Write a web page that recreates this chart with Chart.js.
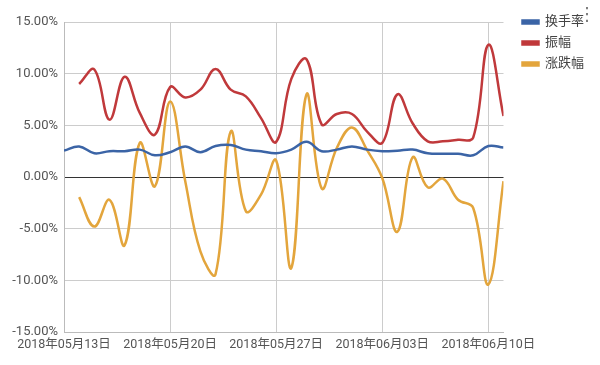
<!DOCTYPE html>
<html>
<head>
<meta charset="utf-8">
<script src="https://cdn.jsdelivr.net/npm/chart.js@4"></script>
<style>
  body { margin: 0; background: #fff; }
  #wrap { position: relative; width: 600px; height: 365px; }
  #menu { position: absolute; left: 578px; top: 3px; font: 18px 'DejaVu Sans', sans-serif; color: #777; }
</style>
</head>
<body>
<div id="wrap">
  <canvas id="stockChart" width="600" height="365"></canvas>
  <div id="menu">⋮</div>
</div>
<script>
// 每日数据 2018-05-13 ~ 2018-06-11
const dates = [
  '2018-05-13', '2018-05-14', '2018-05-15', '2018-05-16', '2018-05-17', '2018-05-18', '2018-05-19',
  '2018-05-20', '2018-05-21', '2018-05-22', '2018-05-23', '2018-05-24', '2018-05-25', '2018-05-26',
  '2018-05-27', '2018-05-28', '2018-05-29', '2018-05-30', '2018-05-31', '2018-06-01', '2018-06-02',
  '2018-06-03', '2018-06-04', '2018-06-05', '2018-06-06', '2018-06-07', '2018-06-08', '2018-06-09',
  '2018-06-10', '2018-06-11'
];

const turnover = [2.55, 2.95, 2.3, 2.5, 2.5, 2.65, 2.1, 2.4, 2.95, 2.4, 3.0, 3.1, 2.65, 2.5, 2.3,
  2.65, 3.4, 2.5, 2.65, 2.95, 2.65, 2.5, 2.55, 2.65, 2.3, 2.25, 2.25, 2.1, 3.0, 2.85];

const amplitude = [null, 9.0, 10.4, 5.55, 9.7, 6.2, 4.1, 8.7, 7.7, 8.45, 10.45, 8.45, 7.8, 5.7, 3.4,
  9.5, 11.4, 5.1, 6.1, 6.1, 4.4, 3.3, 8.0, 5.2, 3.45, 3.45, 3.6, 3.8, 12.8, 5.9];

const change = [null, -1.95, -4.8, -2.2, -6.6, 3.3, -0.9, 7.3, -0.4, -7.2, -9.4, 4.4, -3.3, -1.7, 1.6,
  -8.8, 8.0, -1.1, 2.8, 4.8, 2.6, -0.1, -5.3, 1.9, -1.0, -0.15, -2.2, -3.0, -10.4, -0.4];

const seriesNames = ['换手率', '振幅', '涨跌幅'];
const seriesColors = ['#3b64a6', '#c0393b', '#e3a53c'];

const yTicks = [-15, -10, -5, 0, 5, 10, 15];

const startDay = new Date(dates[0] + 'T00:00:00Z');
function dayOffset(d) {
  return (new Date(d + 'T00:00:00Z') - startDay) / 86400000;
}
function dateLabel(offset) {
  const d = new Date(startDay.getTime() + offset * 86400000);
  const mm = String(d.getUTCMonth() + 1).padStart(2, '0');
  const dd = String(d.getUTCDate()).padStart(2, '0');
  return d.getUTCFullYear() + '年' + mm + '月' + dd + '日';
}
function toPoints(values) {
  return values.map((v, i) => ({ x: dayOffset(dates[i]), y: v }));
}

Chart.defaults.font.family = "Roboto, 'Noto Sans CJK SC', sans-serif";
Chart.defaults.font.size = 13;
Chart.defaults.color = '#555';

// 图例位置微调
const legendShift = {
  id: 'legendShift',
  afterLayout(chart) {
    const lg = chart.legend;
    if (!lg) return;
    const w = lg.width, h = lg.height;
    lg.left = chart.chartArea.right + 11;
    lg.right = lg.left + w;
    lg.top = 7.5;
    lg.bottom = lg.top + h;
  }
};

const ctx = document.getElementById('stockChart').getContext('2d');

new Chart(ctx, {
  type: 'line',
  data: {
    datasets: [turnover, amplitude, change].map((vals, i) => ({
      label: seriesNames[i],
      data: toPoints(vals),
      borderColor: seriesColors[i],
      backgroundColor: seriesColors[i],
      borderWidth: 2.5,
      pointRadius: 0,
      tension: 0.4,
      fill: false
    }))
  },
  options: {
    responsive: false,
    animation: false,
    layout: { padding: { top: 22, right: 17, left: 0, bottom: 0 } },
    plugins: {
      legend: {
        position: 'right',
        align: 'start',
        labels: { boxWidth: 16, boxHeight: 3, padding: 8, color: '#444', font: { size: 13 } }
      },
      tooltip: { enabled: false }
    },
    scales: {
      x: {
        type: 'linear',
        min: 0,
        max: dayOffset(dates[dates.length - 1]),
        afterFit: s => { s.height = 33; },
        grid: { color: '#cccccc', drawTicks: false },
        border: { color: '#bbbbbb' },
        ticks: {
          stepSize: 7,
          includeBounds: false,
          autoSkip: false,
          maxRotation: 0,
          padding: 5,
          color: '#555',
          font: { size: 12.5 },
          callback: v => dateLabel(v)
        }
      },
      y: {
        min: yTicks[0],
        max: yTicks[yTicks.length - 1],
        afterFit: s => { s.width = 64; },
        afterBuildTicks: s => { s.ticks = yTicks.map(v => ({ value: v })); },
        grid: {
          drawTicks: false,
          color: c => (c.tick && c.tick.value === 0) ? '#333333' : '#cccccc'
        },
        border: { color: '#bbbbbb' },
        ticks: {
          padding: 6,
          color: '#555',
          callback: v => v.toFixed(2) + '%'
        }
      }
    }
  },
  plugins: [legendShift]
});
</script>
</body>
</html>
